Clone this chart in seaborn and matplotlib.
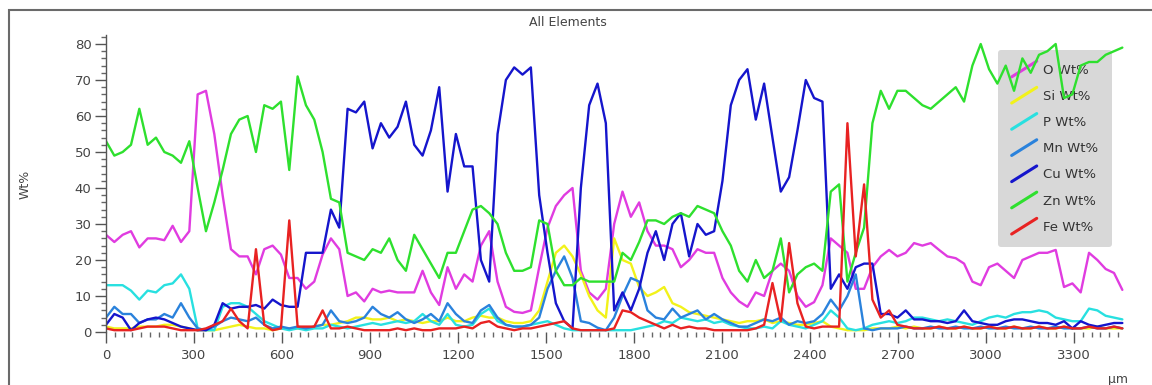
import numpy as np
import pandas as pd
import matplotlib
matplotlib.use("Agg")
import matplotlib.pyplot as plt
import seaborn as sns
from matplotlib.lines import Line2D
from matplotlib.legend_handler import HandlerBase
from matplotlib.patches import Rectangle
from matplotlib.ticker import MultipleLocator

# ---------------- data (line scan, one point per step) ----------------
step_um = 28.4
n_points = 123
distance_um = np.arange(n_points) * step_um

o_wt = [27, 25, 27, 28, 23.5, 26, 26, 25.5, 29.5, 25,
        28, 66, 67, 55, 38, 23, 21, 21, 16, 23,
        24, 21.5, 15, 15, 12, 14, 21.5, 26, 23, 10,
        11, 8.5, 12, 11, 11.5, 11, 11, 11, 17, 11,
        7.5, 18, 12, 16, 14, 24, 28, 14, 7, 5.6,
        5.3, 6, 18, 29, 35, 38, 40, 17, 11, 9,
        12, 30, 39, 32, 36, 28, 24, 24, 23, 18,
        20, 23, 22, 22, 15, 11, 8.5, 7, 11, 10,
        17, 19, 17, 10, 7, 8.3, 13, 26, 24, 22,
        12, 12, 18, 21, 22.8, 21, 22, 24.7, 24, 24.7,
        22.8, 21, 20.5, 19, 14, 13, 18, 19, 17, 15,
        20, 21, 22, 22, 22.8, 12.5, 13.5, 11, 22, 20,
        17.5, 16.4, 11.7]

si_wt = [1.5, 1, 1, 1, 1.5, 1.5, 1.5, 2, 2, 1.5,
         1, 0.5, 0.5, 0.5, 1, 1.5, 2, 1.5, 1, 1,
         0.5, 1, 1, 1, 1, 1.5, 2, 2, 2.5, 3,
         4, 4, 3.5, 3.5, 4, 3, 3.5, 3, 2.5, 3,
         3, 4, 3, 3, 4, 4.5, 4, 4, 3, 2.5,
         2.5, 3, 6, 14, 22, 24, 21, 16, 10, 6,
         4, 26, 20, 19, 12.5, 10, 11, 12.5, 8, 7,
         5.5, 5, 4.5, 4, 3.5, 3, 2.5, 3, 3, 3.5,
         2.5, 3, 2.5, 2, 2, 2.5, 3, 1.5, 1, 0.5,
         0.5, 0.5, 1, 1, 1, 1.5, 1, 1.5, 1, 1,
         1.5, 1, 1, 1.5, 1, 1, 1.5, 1, 1, 1.5,
         1, 1, 1.5, 1, 1, 1.5, 1, 1, 1, 1.5,
         1, 1, 1]

p_wt = [13, 13, 13, 11.5, 9, 11.5, 11, 13, 13.5, 16,
        12, 1, 0.5, 0.5, 7, 8, 8, 7, 5, 3,
        2, 1, 0.5, 1, 0.5, 1, 1, 2, 1.5, 1,
        1.5, 2, 2.5, 2, 2.5, 3, 2.5, 3, 5, 3,
        2, 5, 2, 1.5, 2, 5, 6.5, 3, 2, 1.5,
        1.5, 2, 2.5, 3, 2, 1, 0.5, 0.5, 0.5, 0.5,
        0.5, 0.5, 0.5, 0.5, 1, 1.5, 2, 3, 2.5, 4,
        3.5, 3, 3.5, 2.5, 3, 2, 1.5, 1, 1, 1.5,
        1, 3, 2, 1.5, 1, 2, 3, 6, 4, 1,
        0.5, 1, 2, 2.5, 3, 2.5, 3, 4, 4, 3.5,
        3, 3.5, 3, 2.5, 2, 3, 4, 4.5, 4, 5,
        5.5, 5.5, 6, 5.5, 4, 3.5, 3, 3, 6.5, 6,
        4.5, 4, 3.5]

mn_wt = [4, 7, 5, 5, 2.5, 3.5, 3.5, 5, 4, 8,
         4, 1, 0.5, 1.5, 3, 4, 3.5, 3, 4, 2,
         1, 1.5, 1, 1.5, 1, 1.5, 2, 6, 3, 2.5,
         3, 4, 7, 5, 4, 5.5, 3.5, 2.5, 3.5, 5,
         3, 8, 5, 3, 2.5, 6, 7.5, 4, 2, 1.5,
         1.5, 2, 4, 12, 17, 21, 15, 3, 2.5, 1.2,
         0.5, 4, 10, 15, 14, 6, 4, 3.5, 6.5, 4,
         5, 6, 3.5, 5, 3.5, 2.5, 1.5, 1.5, 2.5, 3.5,
         3, 4, 2, 3, 2.5, 3, 5, 9, 6, 10,
         16, 1, 0.5, 1, 1, 1, 1.5, 1, 1, 1.5,
         1, 1, 1.5, 1, 1, 1.5, 1, 1, 1.5, 1,
         1, 1.5, 1, 1, 1.5, 1, 1, 1, 1.5, 1,
         1, 1.5, 1]

cu_wt = [2, 5, 4, 0.5, 2.5, 3.5, 4, 3.5, 2.5, 1.5,
         1, 0.5, 0.5, 2, 8, 6.5, 7, 7, 7.5, 6.5,
         9, 7.5, 7, 7, 22, 22, 22, 34, 29, 62,
         61, 64, 51, 58, 54, 57, 64, 52, 49, 56,
         68, 39, 55, 46, 46, 20, 14, 55, 70, 73.5,
         71.5, 73.5, 38, 22, 8, 3, 1, 40, 63, 69,
         58, 6, 11, 6, 12, 22, 28, 20, 30, 33,
         21, 30, 27, 28, 42, 63, 70, 73, 59, 69,
         54, 39, 43, 56, 70, 65, 64, 12, 16, 12,
         18, 19, 19, 5, 5, 4, 6, 3.5, 3.5, 3,
         3, 2.5, 3, 6, 3, 2.5, 2, 2, 3, 3.5,
         3.5, 3, 2.5, 2.5, 2, 3, 1, 3, 2, 1.5,
         2, 2.5, 2.5]

zn_wt = [53, 49, 50, 52, 62, 52, 54, 50, 49, 47,
         53, 40, 28, 36, 45, 55, 59, 60, 50, 63,
         62, 64, 45, 71, 63, 59, 50, 37, 36, 22,
         21, 20, 23, 22, 26, 20, 17, 27, 23, 19,
         15, 22, 22, 28, 34, 35, 33, 30, 22, 17,
         17, 18, 31, 30, 17, 13, 13, 15, 14, 14,
         14, 14, 22, 20, 25, 31, 31, 30, 32, 33,
         32, 35, 34, 33, 28, 24, 17, 14, 20, 15,
         17, 26, 11, 16, 18, 19, 17, 39, 41, 14,
         22, 29, 58, 67, 62, 67, 67, 65, 63, 62,
         64, 66, 68, 64, 74, 80, 73, 69, 74, 67,
         76, 72, 77, 78, 80, 65, 66, 74, 75, 75,
         77, 78, 79]

fe_wt = [1, 0.5, 0.5, 0.5, 1, 1.5, 1.5, 1.5, 1, 0.5,
         0.5, 0.5, 1, 2, 3, 6.5, 3, 1, 23, 2,
         0.5, 1, 31, 1.5, 1.5, 1.5, 6, 1, 1, 1.5,
         1, 0.5, 0.5, 0.5, 0.5, 1, 0.5, 1, 0.5, 0.5,
         1, 1, 1, 1.5, 1, 2.5, 3, 1.5, 1, 0.5,
         1, 1, 1.5, 2, 2.5, 3, 1, 0.5, 0.5, 0.5,
         0.5, 1, 6, 5.5, 4, 3, 2, 1, 2, 1,
         1.5, 1, 1, 0.5, 0.5, 0.5, 0.5, 0.5, 1, 2,
         13.6, 3, 24.7, 8, 1.5, 1, 1.5, 1.5, 1.5, 58,
         21, 41, 9, 4, 6, 2, 1.5, 1, 1, 1,
         1.5, 1, 1, 1.5, 1, 1, 1.5, 1, 1, 1.5,
         1, 1, 1.5, 1, 1, 1.5, 1, 1, 1.5, 1,
         1, 1.5, 1]

labels = ["O Wt%", "Si Wt%", "P Wt%", "Mn Wt%", "Cu Wt%", "Zn Wt%", "Fe Wt%"]
series = [o_wt, si_wt, p_wt, mn_wt, cu_wt, zn_wt, fe_wt]
colors = ["#e03ce0", "#f2f21a", "#28e0e0", "#2a82dc", "#1515cc", "#2ee02e", "#e82222"]
palette = dict(zip(labels, colors))

# ---------------- style ----------------
sns.set_style("white")
plt.rcParams["font.family"] = ["DejaVu Sans"]

frames = [pd.DataFrame({"Distance": distance_um, "Wt": vals, "Element": lab})
          for lab, vals in zip(labels, series)]
df = pd.concat(frames, ignore_index=True)

W, H = 1152, 385
fig = plt.figure(figsize=(W / 100, H / 100), dpi=100)
fig.patch.set_facecolor("white")

x_max = 3470
y_max = 82.5
px_per_um = 88 / 300
ax_left, ax_bottom = 106, 332
ax_w = x_max * px_per_um
ax_h = y_max * 3.6
ax = fig.add_axes([ax_left / W, (H - ax_bottom) / H, ax_w / W, ax_h / H])

sns.lineplot(data=df, x="Distance", y="Wt", hue="Element", hue_order=labels,
             palette=palette, estimator=None, sort=False, linewidth=1.7,
             legend=False, ax=ax)

ax.set_xlim(0, x_max)
ax.set_ylim(0, y_max)
ax.set_xlabel("")
ax.set_ylabel("")

ax.xaxis.set_major_locator(MultipleLocator(300))
ax.xaxis.set_minor_locator(MultipleLocator(30))
ax.yaxis.set_major_locator(MultipleLocator(10))
ax.yaxis.set_minor_locator(MultipleLocator(2))

ax.tick_params(axis="both", which="major", direction="out", length=8, width=1,
               color="#555555", labelsize=9.5, labelcolor="#444444")
ax.tick_params(axis="both", which="minor", direction="out", length=3.5, width=1,
               color="#666666")
ax.tick_params(axis="x", which="major", pad=4)
ax.tick_params(axis="y", which="major", pad=2.5)
ax.tick_params(bottom=True, left=True, which="both")

for side in ["top", "right", "bottom"]:
    ax.spines[side].set_visible(False)
ax.spines["left"].set_color("#555555")
ax.spines["left"].set_linewidth(1)
ax.grid(False)


class DiagHandler(HandlerBase):
    def create_artists(self, legend, orig_handle, xdescent, ydescent, width,
                       height, fontsize, trans):
        line = Line2D([-xdescent, -xdescent + width],
                      [-ydescent - 0.35 * height, -ydescent + 1.35 * height],
                      color=orig_handle.get_color(),
                      linewidth=orig_handle.get_linewidth())
        line.set_transform(trans)
        return [line]


handles = [Line2D([], [], color=c, linewidth=2.2) for c in colors]
leg = ax.legend(handles, labels, handler_map={Line2D: DiagHandler()},
                loc="upper right", bbox_to_anchor=(0.988, 0.948),
                borderaxespad=0, frameon=True, fancybox=True,
                facecolor="#d5d5d5", edgecolor="none", framealpha=0.92,
                fontsize=9.5, labelcolor="#333333", handlelength=1.9,
                handletextpad=0.5, labelspacing=1.0, borderpad=1.0)
leg.set_zorder(1)

fig.text(568 / W, 1 - 22 / H, "All Elements", ha="center", va="center",
         fontsize=9, color="#444444")
fig.text(25 / W, 1 - 184 / H, "Wt%", ha="center", va="center", rotation=90,
         fontsize=9, color="#444444")
fig.text(1118 / W, 1 - 379 / H, "µm", ha="center", va="center",
         fontsize=9, color="#444444")

fig.add_artist(Rectangle((9 / W, -0.5), 2.0, (1 - 10 / H) + 0.5,
                         transform=fig.transFigure, fill=False,
                         edgecolor="#6a6a6a", linewidth=1.5))

fig.savefig("out.png", dpi=100, facecolor="white")
